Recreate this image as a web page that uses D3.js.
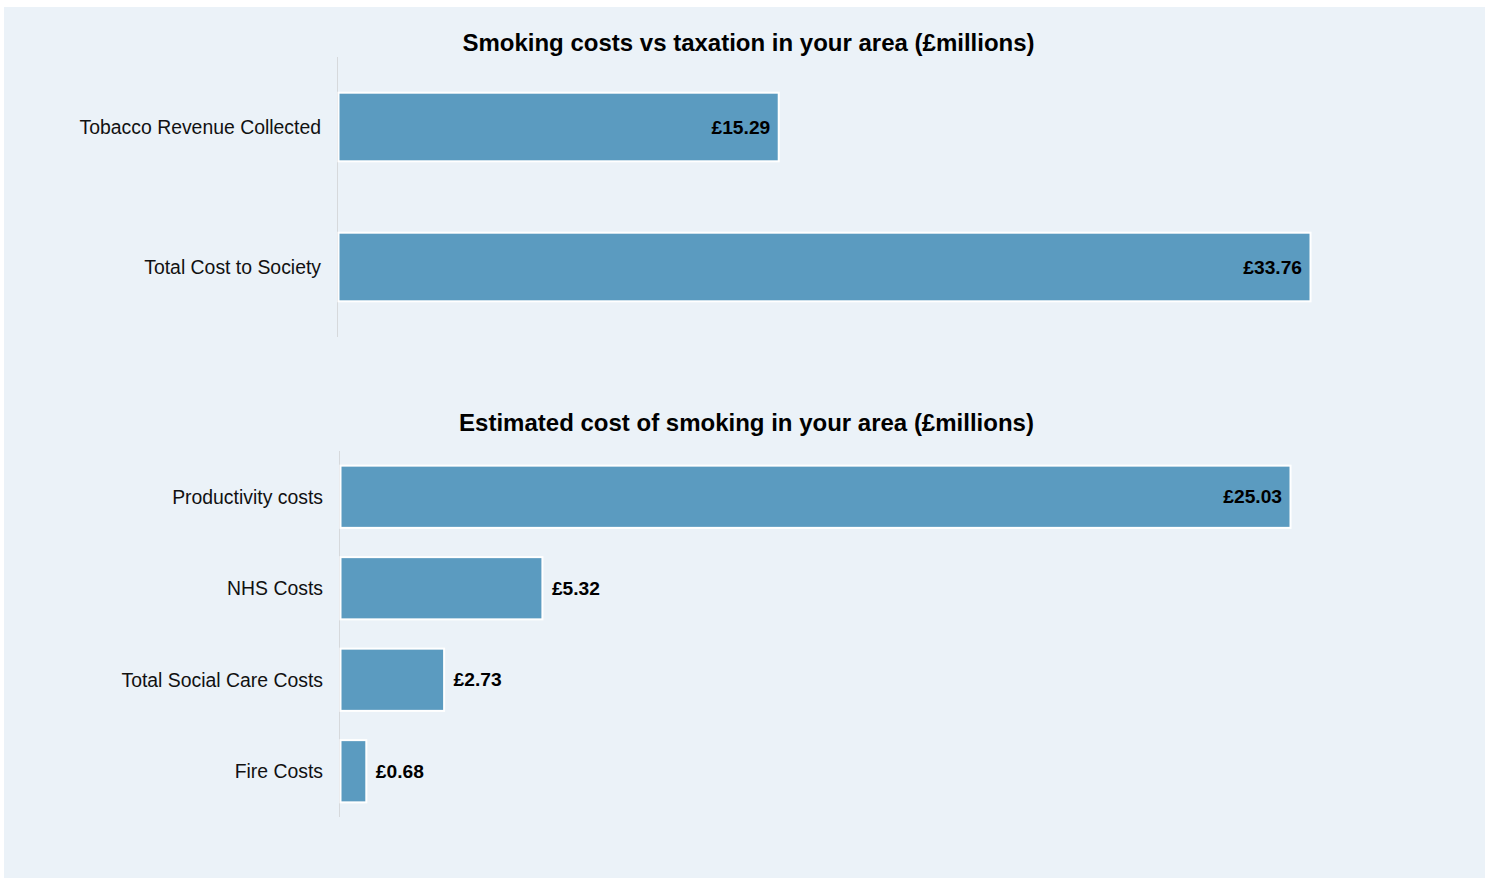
<!DOCTYPE html>
<html>
<head>
<meta charset="utf-8">
<script src="https://cdn.jsdelivr.net/npm/d3@7"></script>
<style>
  body { margin: 0; background: #ffffff; }
  svg text { font-family: "Liberation Sans", Arial, sans-serif; }
</style>
</head>
<body>
<div class="layout"></div>
<script>
// chart data
var taxCategories = ["Tobacco Revenue Collected", "Total Cost to Society"];
var taxValues = [15.29, 33.76];

var costCategories = ["Productivity costs", "NHS Costs", "Total Social Care Costs", "Fire Costs"];
var costValues = [25.03, 5.32, 2.73, 0.68];

var titles = [
  "Smoking costs vs taxation in your area (£millions)",
  "Estimated cost of smoking in your area (£millions)"
];

var width = 1485;
var height = 878;

var svg = d3.select("div.layout")
  .append("svg")
  .attr("width", width)
  .attr("height", height);

// panel background
svg.append("rect")
  .attr("x", 4)
  .attr("y", 7)
  .attr("width", width - 4)
  .attr("height", height - 7)
  .attr("fill", "#ebf2f8");

// draws one horizontal bar chart
function makeBars(cfg) {
  var g = svg.append("g");

  var y = d3.scaleBand()
    .domain(cfg.categories)
    .range([cfg.top, cfg.bottom])
    .paddingInner(cfg.padInner)
    .paddingOuter(cfg.padInner / 2);

  var x = d3.scaleLinear()
    .domain([0, cfg.max])
    .range([cfg.left, cfg.right]);

  var maxVal = d3.max(cfg.values);
  var rows = cfg.categories.map(function (c, i) { return {cat: c, val: cfg.values[i]}; });

  // title
  g.append("text")
    .attr("x", cfg.titleX)
    .attr("y", cfg.titleY)
    .attr("text-anchor", "middle")
    .attr("font-size", "24px")
    .attr("font-weight", "bold")
    .attr("fill", "#000")
    .text(cfg.title);

  // axis line
  g.append("line")
    .attr("x1", cfg.left - 0.5)
    .attr("x2", cfg.left - 0.5)
    .attr("y1", cfg.top)
    .attr("y2", cfg.bottom)
    .attr("stroke", "#d6d9dc")
    .attr("stroke-width", 1);

  // category labels
  g.selectAll("text.cat")
    .data(rows)
    .enter()
    .append("text")
    .attr("class", "cat")
    .attr("x", cfg.left - 17)
    .attr("y", function (d) { return y(d.cat) + y.bandwidth() / 2; })
    .attr("dy", "0.35em")
    .attr("text-anchor", "end")
    .attr("font-size", "19.4px")
    .attr("fill", "#111")
    .text(function (d) { return d.cat; });

  // bars
  g.selectAll("rect.bar")
    .data(rows)
    .enter()
    .append("rect")
    .attr("class", "bar")
    .attr("x", x(0) + 0.5)
    .attr("y", function (d) { return y(d.cat); })
    .attr("width", function (d) { return x(d.val) - x(0); })
    .attr("height", y.bandwidth())
    .attr("fill", "#5b9bc0")
    .attr("stroke", "#ffffff")
    .attr("stroke-width", 2);

  // value labels, inside the long bars, outside the short ones
  g.selectAll("text.val")
    .data(rows)
    .enter()
    .append("text")
    .attr("class", "val")
    .attr("x", function (d) {
      return d.val / maxVal > 0.4 ? x(d.val) - 8 : x(d.val) + 10;
    })
    .attr("y", function (d) { return y(d.cat) + y.bandwidth() / 2; })
    .attr("dy", "0.35em")
    .attr("text-anchor", function (d) { return d.val / maxVal > 0.4 ? "end" : "start"; })
    .attr("font-size", "19.2px")
    .attr("font-weight", "bold")
    .attr("fill", "#000")
    .text(function (d) { return "£" + d.val.toFixed(2); });
}

makeBars({
  categories: taxCategories,
  values: taxValues,
  title: titles[0],
  titleX: 748.5,
  titleY: 51,
  top: 57,
  bottom: 337,
  padInner: 0.51,
  left: 338,
  right: 1310,
  max: 33.76
});

makeBars({
  categories: costCategories,
  values: costValues,
  title: titles[1],
  titleX: 746.5,
  titleY: 431,
  top: 451,
  bottom: 817,
  padInner: 0.32,
  left: 340,
  right: 1290,
  max: 25.03
});
</script>
</body>
</html>
